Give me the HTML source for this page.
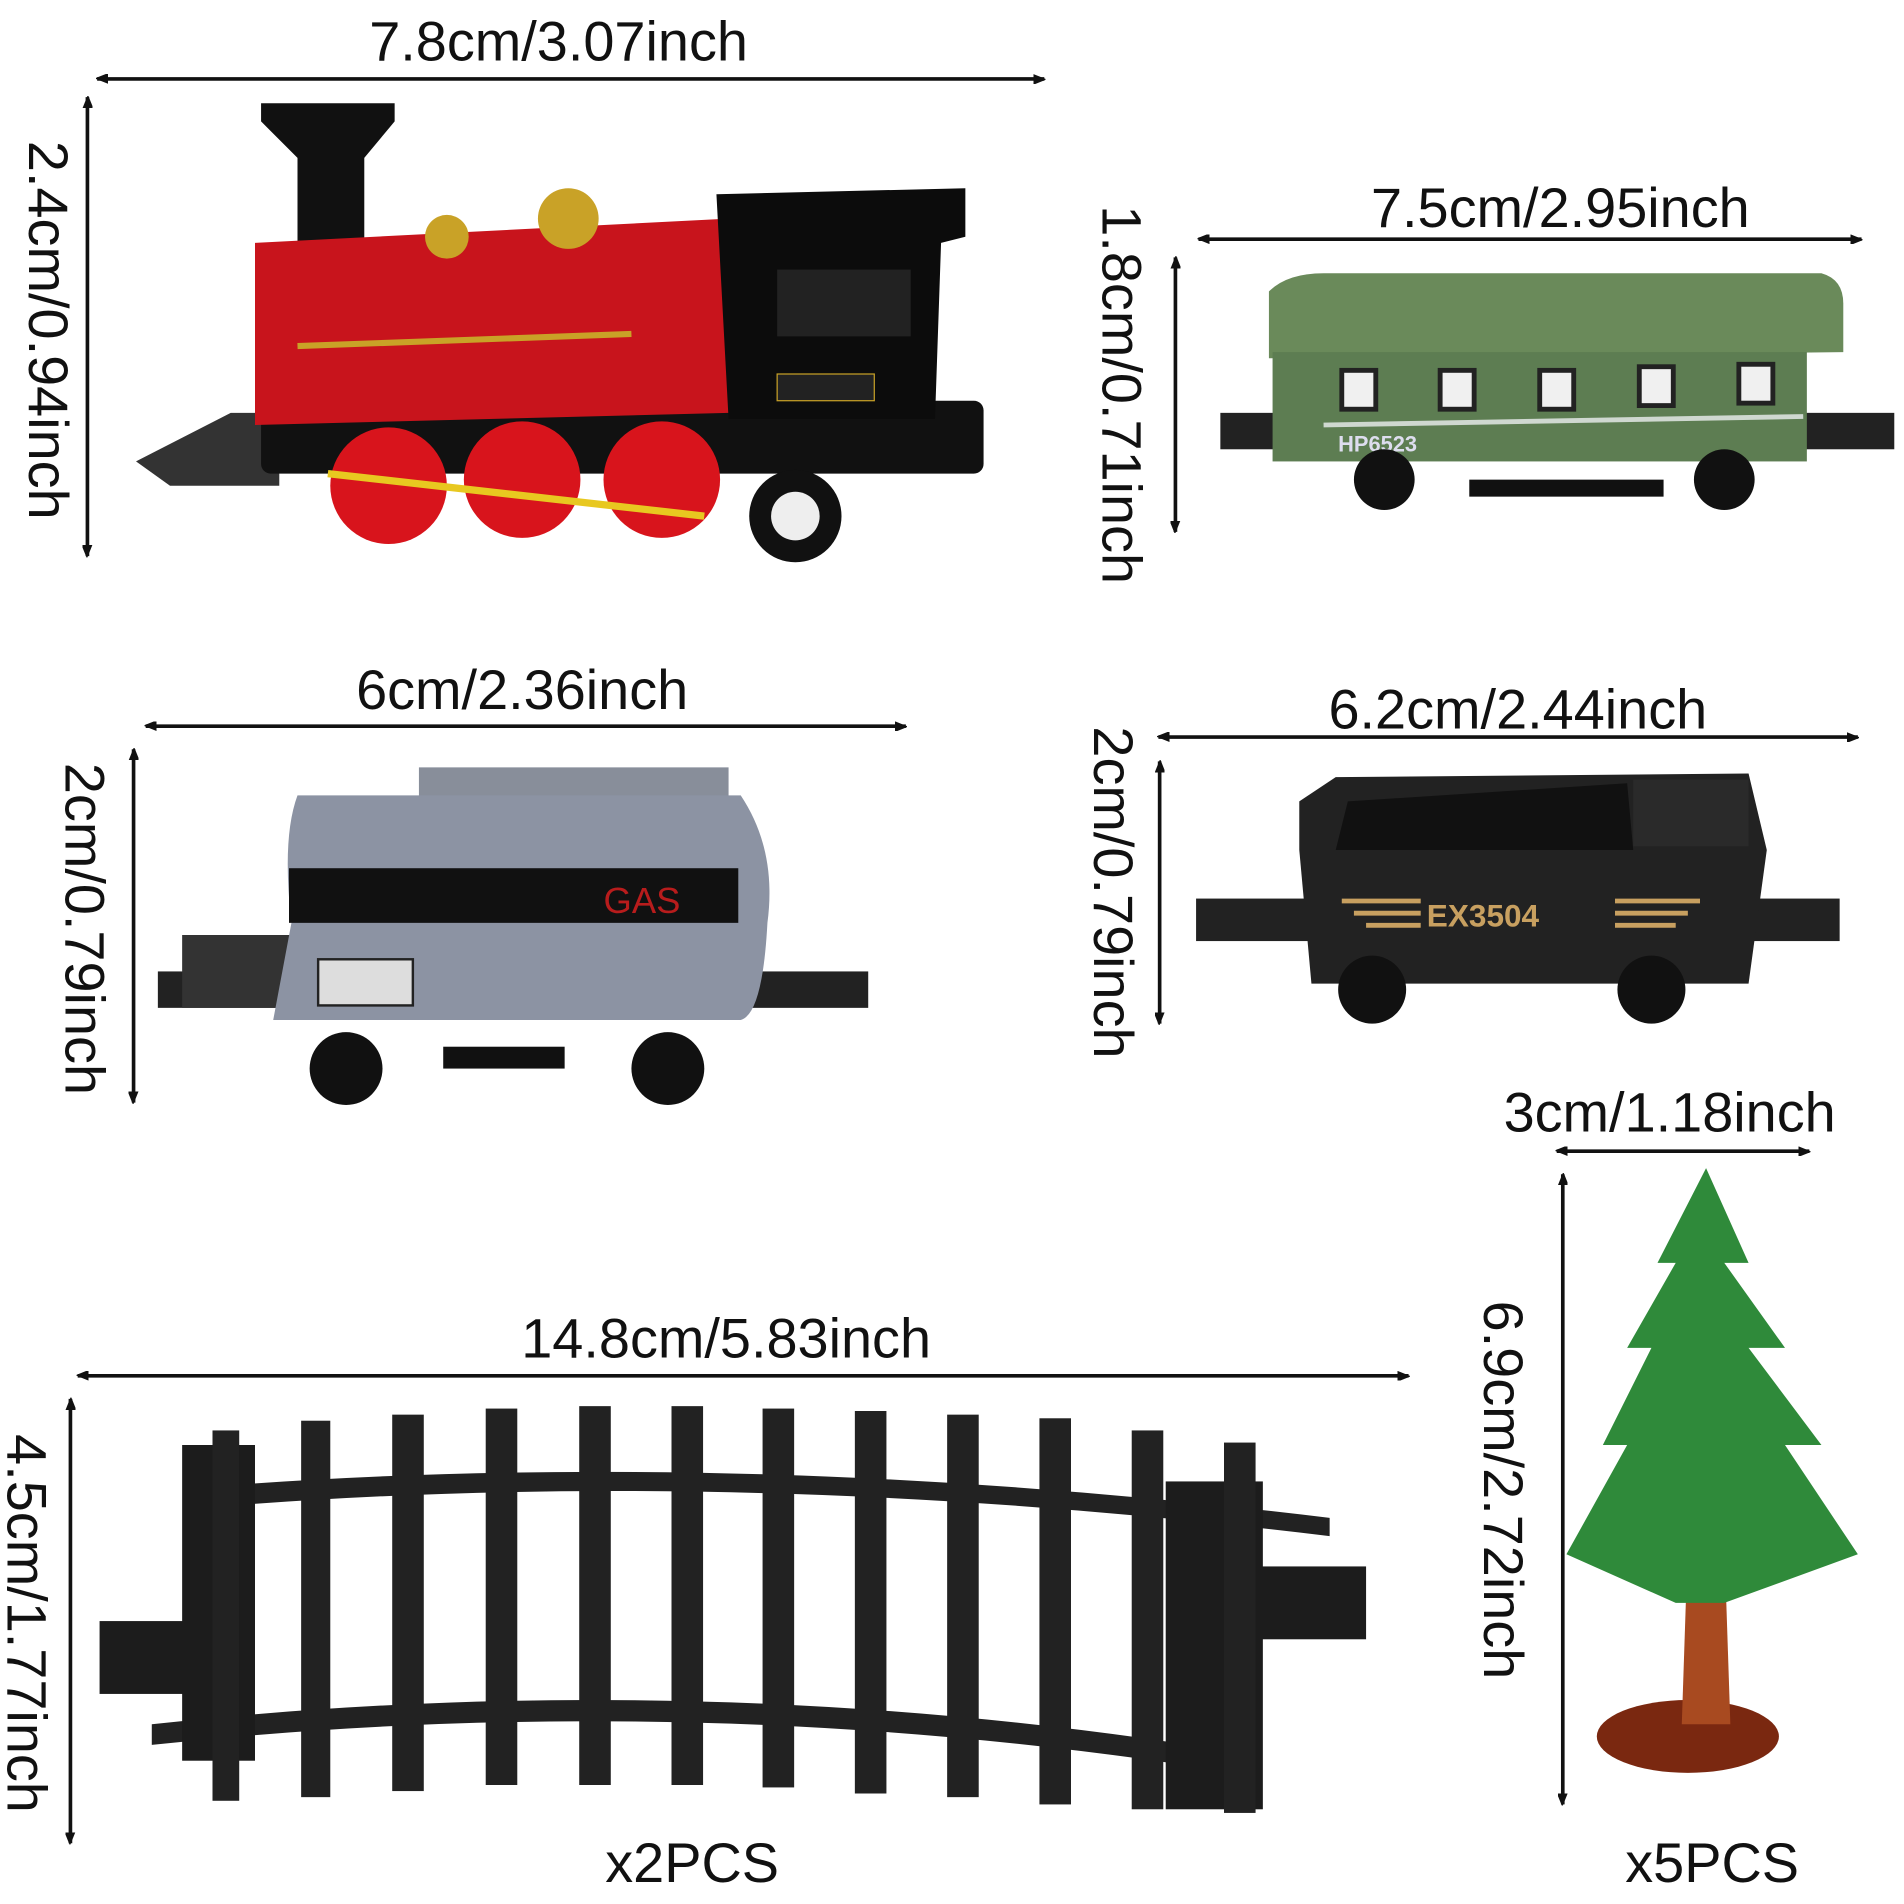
<!DOCTYPE html>
<html><head><meta charset="utf-8"><style>
html,body{margin:0;padding:0;background:#fff}
svg{display:block}
text{font-family:"Liberation Sans",sans-serif;font-size:46px;fill:#111}
</style></head><body>
<svg width="1904" height="1904" viewBox="0 0 1568 1568" xmlns="http://www.w3.org/2000/svg">
<defs>
<marker id="a" markerWidth="10" markerHeight="8" refX="9" refY="4" orient="auto-start-reverse" markerUnits="userSpaceOnUse"><path d="M0,0 L10,4 L0,8 Z" fill="#111" transform="scale(2.2) translate(-5,-2)"/></marker>
</defs>
<g stroke="#111" stroke-width="3" marker-start="url(#a)" marker-end="url(#a)">
<line x1="80" y1="65" x2="860" y2="65"/>
<line x1="72" y1="80" x2="72" y2="458"/>
<line x1="987" y1="197" x2="1533" y2="197"/>
<line x1="968" y1="212" x2="968" y2="438"/>
<line x1="120" y1="598" x2="746" y2="598"/>
<line x1="110" y1="617" x2="110" y2="908"/>
<line x1="954" y1="607" x2="1530" y2="607"/>
<line x1="955" y1="627" x2="955" y2="843"/>
<line x1="1282" y1="948" x2="1490" y2="948"/>
<line x1="1287" y1="967" x2="1287" y2="1486"/>
<line x1="64" y1="1133" x2="1160" y2="1133"/>
<line x1="58" y1="1152" x2="58" y2="1518"/>
</g>
<g text-anchor="middle">
<text x="460" y="50">7.8cm/3.07inch</text>
<text x="1285" y="187">7.5cm/2.95inch</text>
<text x="430" y="584">6cm/2.36inch</text>
<text x="1250" y="600">6.2cm/2.44inch</text>
<text x="1375" y="932">3cm/1.18inch</text>
<text x="598" y="1118">14.8cm/5.83inch</text>
<text x="570" y="1550">x2PCS</text>
<text x="1410" y="1550">x5PCS</text>
<text transform="translate(24,272) rotate(90)">2.4cm/0.94inch</text>
<text transform="translate(908,325) rotate(90)">1.8cm/0.71inch</text>
<text transform="translate(54,765) rotate(90)">2cm/0.79inch</text>
<text transform="translate(901,735) rotate(90)">2cm/0.79inch</text>
<text transform="translate(1222,1227) rotate(90)">6.9cm/2.72inch</text>
<text transform="translate(6,1337) rotate(90)">4.5cm/1.77inch</text>
</g>
<!-- locomotive -->
<g>
<path d="M112,380 L190,340 L230,340 L230,400 L140,400 Z" fill="#333"/>
<rect x="215" y="330" width="595" height="60" rx="8" fill="#111"/>
<path d="M215,85 L325,85 L325,100 L300,130 L300,210 L245,210 L245,130 L215,100 Z" fill="#111"/>
<path d="M210,200 L600,180 L600,340 L210,350 Z" fill="#c8141c"/>
<circle cx="368" cy="195" r="18" fill="#c9a227"/><circle cx="468" cy="180" r="25" fill="#c9a227"/>
<path d="M590,160 L795,155 L795,195 L775,200 L770,345 L600,345 Z" fill="#0c0c0c"/>
<rect x="640" y="222" width="110" height="55" fill="#222"/>
<rect x="640" y="308" width="80" height="22" fill="#222" stroke="#c9a227"/>
<line x1="245" y1="285" x2="520" y2="275" stroke="#c9a227" stroke-width="5"/>
<circle cx="320" cy="400" r="48" fill="#d8141c"/><circle cx="430" cy="395" r="48" fill="#d8141c"/><circle cx="545" cy="395" r="48" fill="#d8141c"/>
<line x1="270" y1="390" x2="580" y2="425" stroke="#e8c820" stroke-width="6"/>
<circle cx="655" cy="425" r="38" fill="#111"/><circle cx="655" cy="425" r="20" fill="#eee"/>
</g>
<!-- green coach -->
<g>
<rect x="1005" y="340" width="555" height="30" fill="#222"/>
<path d="M1045,240 Q1060,225 1090,225 L1500,225 Q1518,230 1518,250 L1518,290 L1045,295 Z" fill="#6a8a5a"/>
<rect x="1048" y="290" width="440" height="90" fill="#5d7d52"/>
<line x1="1090" y1="350" x2="1485" y2="343" stroke="#cfd8d0" stroke-width="4"/>
<g fill="#f0f0f0" stroke="#222" stroke-width="4"><rect x="1105" y="305" width="28" height="32"/><rect x="1186" y="305" width="28" height="32"/><rect x="1268" y="305" width="28" height="32"/><rect x="1350" y="302" width="28" height="32"/><rect x="1432" y="300" width="28" height="32"/></g>
<text x="1102" y="372" style="font-size:18px;fill:#dde;font-weight:bold">HP6523</text>
<circle cx="1140" cy="395" r="25" fill="#111"/><circle cx="1420" cy="395" r="25" fill="#111"/>
<rect x="1210" y="395" width="160" height="14" fill="#111"/>
</g>
<!-- tanker -->
<g>
<rect x="130" y="800" width="585" height="30" fill="#222"/>
<rect x="150" y="770" width="100" height="60" fill="#333"/>
<path d="M345,632 L600,632 L600,660 L345,660 Z" fill="#888e9a"/>
<path d="M245,655 L610,655 Q640,700 632,760 Q628,835 610,840 L225,840 L240,760 Q232,690 245,655 Z" fill="#8c93a3"/>
<rect x="238" y="715" width="370" height="45" fill="#111"/>
<text x="497" y="752" style="font-size:30px;fill:#b81c1c">GAS</text>
<rect x="262" y="790" width="78" height="38" fill="#ddd" stroke="#222" stroke-width="2"/>
<circle cx="285" cy="880" r="30" fill="#111"/><circle cx="550" cy="880" r="30" fill="#111"/>
<rect x="365" y="862" width="100" height="18" fill="#111"/>
</g>
<!-- tender -->
<g>
<rect x="985" y="740" width="530" height="35" fill="#222"/>
<path d="M1070,660 L1100,640 L1440,637 L1455,700 L1440,810 L1080,810 L1070,700 Z" fill="#222"/>
<path d="M1100,700 L1110,660 L1340,645 L1345,700 Z" fill="#111"/>
<rect x="1345" y="642" width="95" height="55" fill="#2a2a2a"/>
<g stroke="#c8a060" stroke-width="4"><line x1="1105" y1="742" x2="1170" y2="742"/><line x1="1115" y1="752" x2="1170" y2="752"/><line x1="1125" y1="762" x2="1170" y2="762"/><line x1="1330" y1="742" x2="1400" y2="742"/><line x1="1330" y1="752" x2="1390" y2="752"/><line x1="1330" y1="762" x2="1380" y2="762"/></g>
<text x="1175" y="763" style="font-size:26px;fill:#c8a060;font-weight:bold">EX3504</text>
<circle cx="1130" cy="815" r="28" fill="#111"/><circle cx="1360" cy="815" r="28" fill="#111"/>
</g>
<!-- tree -->
<g>
<ellipse cx="1390" cy="1430" rx="75" ry="30" fill="#7a2810"/>
<path d="M1390,1270 L1420,1270 L1425,1420 L1385,1420 Z" fill="#a84a20"/>
<path d="M1405,962 L1440,1040 L1420,1040 L1470,1110 L1440,1110 L1500,1190 L1470,1190 L1530,1280 L1420,1320 L1380,1320 L1290,1280 L1340,1190 L1320,1190 L1360,1110 L1340,1110 L1380,1040 L1365,1040 Z" fill="#2f8a3a"/>
</g>
<!-- track -->
<g>
<path d="M165,1225 Q600,1190 1095,1250 L1095,1265 Q600,1205 165,1242 Z" fill="#222"/>
<path d="M125,1420 Q580,1370 1030,1445 L1030,1462 Q580,1388 125,1437 Z" fill="#222"/>
<rect x="150" y="1190" width="60" height="260" fill="#1c1c1c"/>
<rect x="82" y="1335" width="80" height="60" fill="#1c1c1c"/>
<rect x="1030" y="1290" width="95" height="60" fill="#1c1c1c"/>
<rect x="960" y="1220" width="80" height="270" fill="#1c1c1c"/>
<g fill="#222">
<rect x="175" y="1178" width="22" height="305"/><rect x="248" y="1170" width="24" height="310"/><rect x="323" y="1165" width="26" height="310"/><rect x="400" y="1160" width="26" height="310"/><rect x="477" y="1158" width="26" height="312"/><rect x="553" y="1158" width="26" height="312"/><rect x="628" y="1160" width="26" height="312"/><rect x="704" y="1162" width="26" height="315"/><rect x="780" y="1165" width="26" height="315"/><rect x="856" y="1168" width="26" height="318"/><rect x="932" y="1178" width="26" height="312"/><rect x="1008" y="1188" width="26" height="305"/>
</g>
</g>
</svg>
</body></html>
